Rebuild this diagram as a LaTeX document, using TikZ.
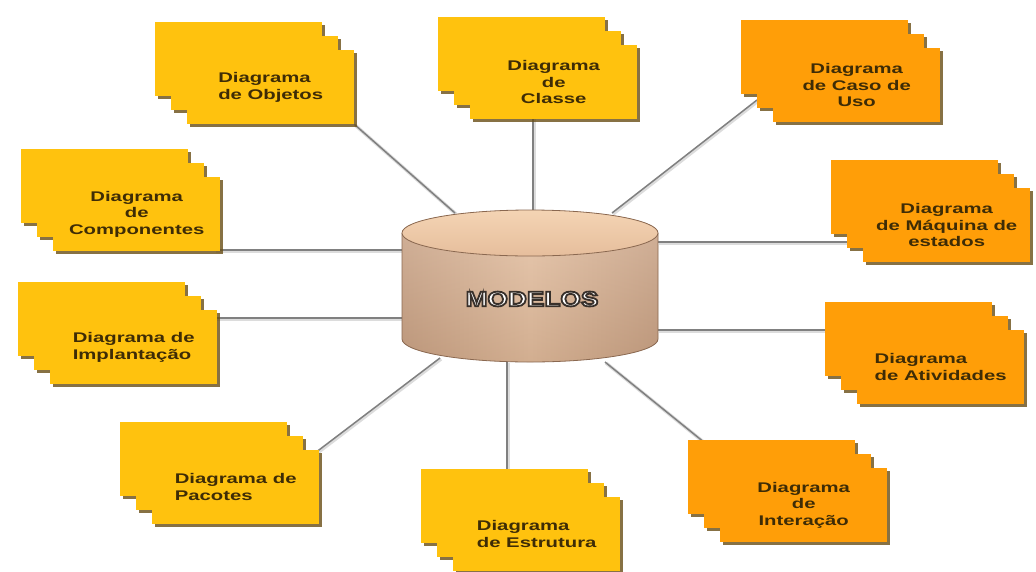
\documentclass[tikz,border=0pt]{standalone}
\usepackage{fontspec}
\setmainfont{Liberation Sans}
\newfontfamily\cardfont[FakeStretch=1.45]{Liberation Sans}
\newfontfamily\hubfont[FakeStretch=1.25]{Liberation Sans}
\usetikzlibrary{shadows,backgrounds}

\definecolor{cardyellow}{RGB}{255,194,14}
\definecolor{cardorange}{RGB}{255,158,8}
\definecolor{cardtext}{RGB}{62,44,6}
\definecolor{cardshadow}{RGB}{105,78,22}
\definecolor{wire}{RGB}{128,128,128}
\definecolor{wireglow}{RGB}{220,220,220}
\definecolor{cyltopA}{RGB}{244,212,180}
\definecolor{cyltopB}{RGB}{230,190,156}
\definecolor{cylmid}{RGB}{228,190,158}
\definecolor{cyledge}{RGB}{200,160,130}
\definecolor{cylline}{RGB}{138,104,80}

% white letters with a dark stroked rim (fill + stroke render mode)
\newcommand\rimtext[1]{%
  \special{pdf:literal direct 2 Tr 1.8 w 0.22 0.19 0.17 RG}#1%
  \special{pdf:literal direct 0 Tr}}

\tikzset{
  card/.style={fill=#1, draw=none, inner sep=0pt, anchor=north west,
    minimum width=167pt, minimum height=74pt,
    drop shadow={shadow xshift=3pt, shadow yshift=-3pt,
                 fill=cardshadow, opacity=0.8}},
  cardlabel/.style={font=\cardfont\bfseries\fontsize{14}{16.5}\selectfont,
    text=cardtext},
  wire/.style={draw=wire, line width=1.5pt},
  wireunder/.style={draw=wireglow, line width=3.4pt},
}

% a stack of three cards; #2,#3 is the top-left corner of the front card
\newcommand\cardstack[6]{%
  \node[card=#4] (#1-back) at (#2-32,#3-28) {};
  \node[card=#4] (#1-mid)  at (#2-16,#3-14) {};
  \node[card=#4, cardlabel, align=#5] (#1) at (#2,#3) {#6};
}

\begin{document}
\begin{tikzpicture}[x=1pt,y=-1pt]
\useasboundingbox (0,0) rectangle (1036,571);
\begin{scope}[on background layer]
  \fill[white] (0,0) rectangle (1036,571);
\end{scope}

% diagram cards
\cardstack{obj}{187}{50}{cardyellow}{left}{Diagrama\\de Objetos}
\cardstack{cls}{470}{45}{cardyellow}{center}{Diagrama\\de\\Classe}
\cardstack{uso}{773}{48}{cardorange}{center}{Diagrama\\de Caso de\\Uso}
\cardstack{cmp}{53}{177}{cardyellow}{center}{Diagrama\\de\\Componentes}
\cardstack{maq}{863}{188}{cardorange}{center}{Diagrama\\de Máquina de\\estados}
\cardstack{imp}{50}{310}{cardyellow}{left}{Diagrama de\\Implantação}
\cardstack{atv}{857}{330}{cardorange}{left}{Diagrama\\de Atividades}
\cardstack{pac}{152}{450}{cardyellow}{left}{Diagrama de\\Pacotes}
\cardstack{est}{453}{497}{cardyellow}{left}{Diagrama\\de Estrutura}
\cardstack{int}{720}{468}{cardorange}{center}{Diagrama\\de\\Interação}

% the central store
\path[left color=cyledge, right color=cyledge, middle color=cylmid]
  (402,233) -- (402,339) arc[start angle=180, end angle=0, x radius=128, y radius=23]
  -- (658,233) arc[start angle=0, end angle=-180, x radius=128, y radius=23] -- cycle;
\path[top color=white, bottom color=cyledge!70!black, fill opacity=0.2]
  (402,233) -- (402,339) arc[start angle=180, end angle=0, x radius=128, y radius=23]
  -- (658,233) arc[start angle=0, end angle=-180, x radius=128, y radius=23] -- cycle;
\draw[cylline, line width=0.8pt]
  (402,233) -- (402,339) arc[start angle=180, end angle=0, x radius=128, y radius=23]
  -- (658,233);
\draw[cylline, line width=0.8pt, top color=cyltopA, bottom color=cyltopB]
  (530,233) ellipse[x radius=128, y radius=23];

\node[font=\hubfont\bfseries\fontsize{21}{24}\selectfont, text=white]
  (hub) at (532,299) {\rimtext{MODELOS}};

% wire ends on the store
\coordinate (s-obj) at (455,213);
\coordinate (s-cls) at (533,210);
\coordinate (s-uso) at (612,213);
\coordinate (s-cmp) at (402,250);
\coordinate (s-maq) at (658,242);
\coordinate (s-imp) at (402,318);
\coordinate (s-atv) at (658,330);
\coordinate (s-pac) at (440,358);
\coordinate (s-est) at (507,362);
\coordinate (s-int) at (605,362);
% wire ends on the cards
\coordinate (c-cls) at (533,115);
\coordinate (c-uso) at (757,100);
\coordinate (c-cmp) at (215,250);
\coordinate (c-maq) at (855,242);
\coordinate (c-imp) at (212,318);
\coordinate (c-atv) at (845,330);
\coordinate (c-pac) at (315,453);
\coordinate (c-est) at (507,475);
\coordinate (c-int) at (705,443);

\begin{scope}[on background layer]
  \foreach \a/\b in {s-obj/obj.south east, s-cls/c-cls, s-uso/c-uso,
                     s-cmp/c-cmp, s-maq/c-maq, s-imp/c-imp, s-atv/c-atv,
                     s-pac/c-pac, s-est/c-est, s-int/c-int}
  {
    \draw[wireunder] ([shift={(1,1)}]\a) -- ([shift={(1,1)}]\b);
    \draw[wire] (\a) -- (\b);
  }
\end{scope}
\end{tikzpicture}
\end{document}
